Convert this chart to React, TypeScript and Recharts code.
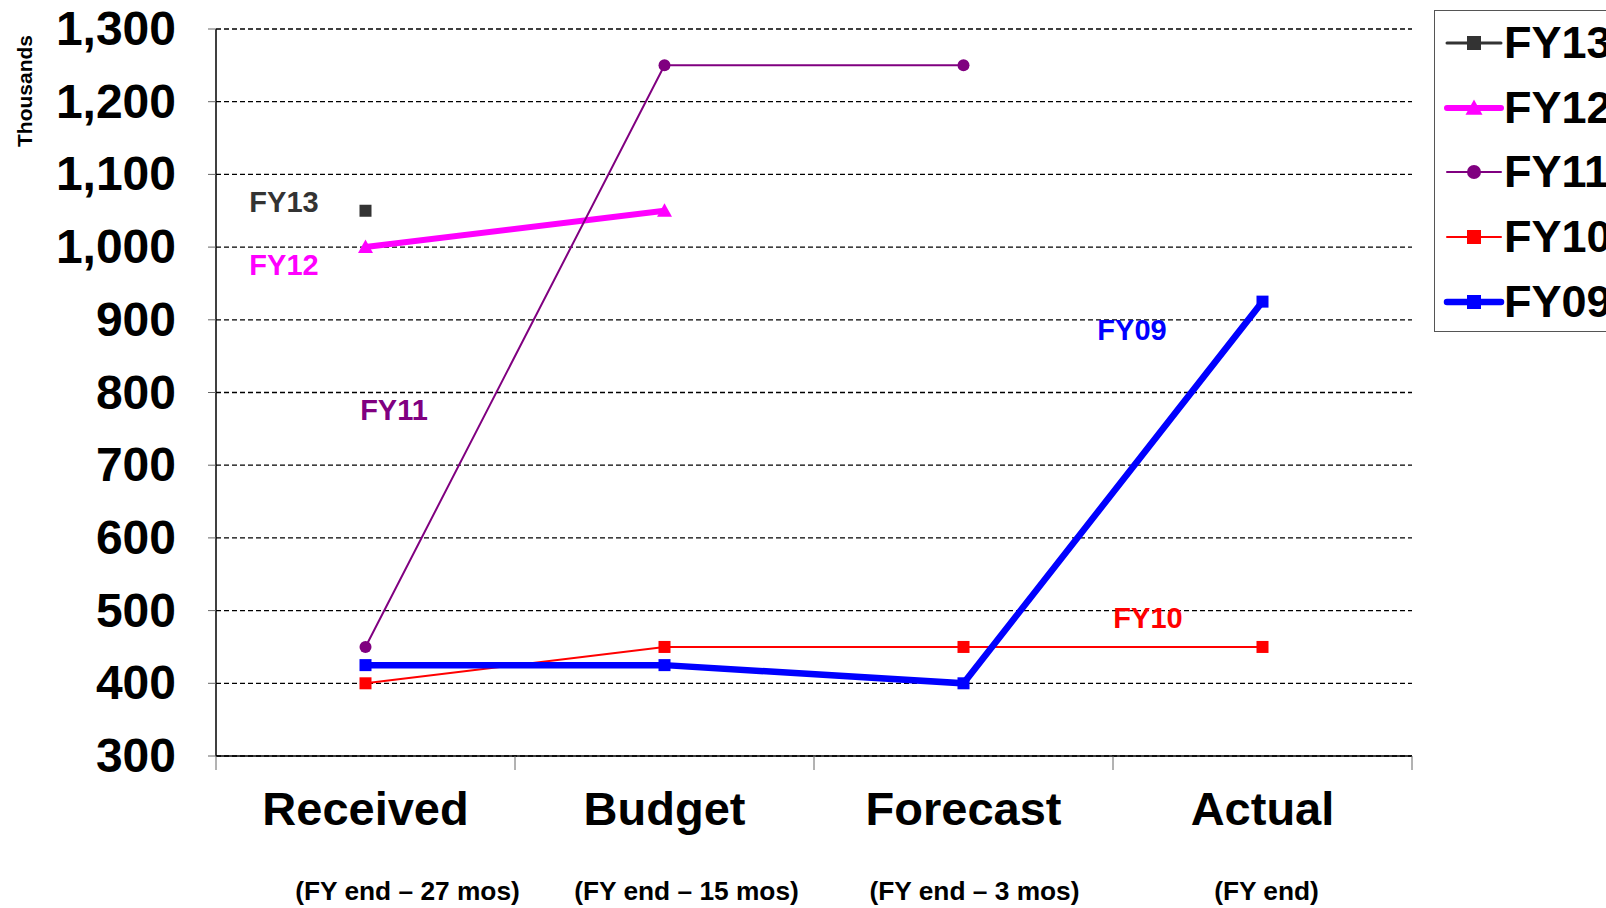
import { CartesianGrid, Legend, Line, LineChart, XAxis, YAxis } from "recharts";

const categories = ["Received", "Budget", "Forecast", "Actual"];
const subLabels = ["(FY end – 27 mos)", "(FY end – 15 mos)", "(FY end – 3 mos)", "(FY end)"];
const fy13 = [1050, null, null, null];
const fy12 = [1000, 1050, null, null];
const fy11 = [450, 1250, 1250, null];
const fy10 = [400, 450, 450, 450];
const fy09 = [425, 425, 400, 925];
const yTicks = [300, 400, 500, 600, 700, 800, 900, 1000, 1100, 1200, 1300];

// subtitles sit a little right of the category centre in the original
const subShift = [42, 22, 11, 4];

const data = categories.map((c, i) => ({
  name: c,
  sub: subLabels[i],
  FY13: fy13[i],
  FY12: fy12[i],
  FY11: fy11[i],
  FY10: fy10[i],
  FY09: fy09[i],
}));

const FONT = "'Liberation Sans', Arial, sans-serif";

type SeriesDef = {
  key: string;
  color: string;
  width: number;
  marker: "square" | "triangle" | "circle";
  size: number;
};

const series: SeriesDef[] = [
  { key: "FY13", color: "#333333", width: 3, marker: "square", size: 12 },
  { key: "FY12", color: "#FF00FF", width: 6, marker: "triangle", size: 15 },
  { key: "FY11", color: "#800080", width: 2, marker: "circle", size: 12 },
  { key: "FY10", color: "#FF0000", width: 2, marker: "square", size: 12 },
  { key: "FY09", color: "#0000FF", width: 6.5, marker: "square", size: 12 },
];

function marker(kind: string, cx: number, cy: number, size: number, color: string, key?: string) {
  const h = size / 2;
  if (kind === "circle") return <circle key={key} cx={cx} cy={cy} r={h} fill={color} />;
  if (kind === "triangle")
    return (
      <polygon
        key={key}
        points={`${cx},${cy - h} ${cx + h},${cy + h * 0.8} ${cx - h},${cy + h * 0.8}`}
        fill={color}
      />
    );
  return <rect key={key} x={cx - h} y={cy - h} width={size} height={size} fill={color} />;
}

const makeDot = (s: SeriesDef) => (props: any) => {
  const { cx, cy, index, value } = props;
  if (value == null || cx == null || cy == null) return <g key={`${s.key}-${index}`} />;
  return marker(s.marker, cx, cy, s.size, s.color, `${s.key}-${index}`);
};

const XTick = (props: any) => {
  const { x, y, payload, index } = props;
  const half = payload.offset ?? 149;
  const row = data[index];
  return (
    <g>
      <line x1={x - half} y1={y - 8} x2={x - half} y2={y + 6} stroke="#666" strokeWidth={1} />
      {index === categories.length - 1 && (
        <line x1={x + half} y1={y - 8} x2={x + half} y2={y + 6} stroke="#666" strokeWidth={1} />
      )}
      <text x={x} y={y + 61} textAnchor="middle" fontFamily={FONT} fontWeight="bold" fontSize={47} fill="#000">
        {payload.value}
      </text>
      <text
        x={x + (subShift[index] ?? 0)}
        y={y + 136}
        textAnchor="middle"
        fontFamily={FONT}
        fontWeight="bold"
        fontSize={26.3}
        fill="#000"
      >
        {row ? row.sub : ""}
      </text>
    </g>
  );
};

const LegendBox = () => (
  <div
    style={{
      position: "absolute",
      left: 1434,
      top: 10,
      width: 240,
      height: 322,
      border: "1px solid #555",
      background: "#fff",
      boxSizing: "border-box",
    }}
  >
    {series.map((s, i) => (
      <div key={s.key} style={{ position: "absolute", left: 0, top: 7 + i * 64.7, height: 50, width: 240 }}>
        <svg width={64} height={50} style={{ position: "absolute", left: 8, top: 0 }}>
          <line x1={4} y1={25} x2={58} y2={25} stroke={s.color} strokeWidth={s.width} strokeLinecap="round" />
          {marker(s.marker, 31, 25, s.size + 2, s.color)}
        </svg>
        <span
          style={{
            position: "absolute",
            left: 69,
            top: 0,
            lineHeight: "50px",
            fontFamily: FONT,
            fontWeight: "bold",
            fontSize: 45,
            color: "#000",
          }}
        >
          {s.key}
        </span>
      </div>
    ))}
  </div>
);

const notes = [
  { text: "FY13", color: "#333333", x: 284, y: 202 },
  { text: "FY12", color: "#FF00FF", x: 284, y: 265 },
  { text: "FY11", color: "#800080", x: 394, y: 410 },
  { text: "FY09", color: "#0000FF", x: 1132, y: 330 },
  { text: "FY10", color: "#FF0000", x: 1148, y: 618 },
];

export default function App() {
  return (
    <div
      style={{
        position: "absolute",
        left: 0,
        top: 0,
        width: 1606,
        height: 908,
        overflow: "hidden",
        background: "#fff",
      }}
    >
      <LineChart width={1606} height={908} data={data} margin={{ top: 29, right: 194, bottom: 0, left: 0 }}>
        <CartesianGrid vertical={false} stroke="#000" strokeDasharray="5 3" strokeWidth={1.3} />
        <XAxis
          dataKey="name"
          scale="band"
          height={152}
          axisLine={{ stroke: "#000", strokeWidth: 1.5 }}
          tickLine={false}
          tick={<XTick />}
          interval={0}
        />
        <YAxis
          width={216}
          domain={[300, 1300]}
          ticks={yTicks}
          interval={0}
          tickFormatter={(v: number) => v.toLocaleString("en-US")}
          axisLine={{ stroke: "#000", strokeWidth: 1.5 }}
          tickLine={{ stroke: "#666" }}
          tickSize={8}
          tickMargin={32}
          tick={{ fontFamily: FONT, fontWeight: "bold", fontSize: 48, fill: "#000", dy: -1 }}
        />
        <Legend content={() => null} />
        {series.map((s) => (
          <Line
            key={s.key}
            type="linear"
            dataKey={s.key}
            stroke={s.color}
            strokeWidth={s.width}
            dot={makeDot(s)}
            activeDot={false}
            isAnimationActive={false}
          />
        ))}
      </LineChart>
      <div
        style={{
          position: "absolute",
          left: 25,
          top: 91,
          transform: "translate(-50%, -50%) rotate(-90deg)",
          fontFamily: FONT,
          fontWeight: "bold",
          fontSize: 21,
          whiteSpace: "nowrap",
          color: "#000",
        }}
      >
        Thousands
      </div>
      {notes.map((n) => (
        <div
          key={n.text}
          style={{
            position: "absolute",
            left: n.x,
            top: n.y,
            transform: "translate(-50%, -50%)",
            fontFamily: FONT,
            fontWeight: "bold",
            fontSize: 29,
            color: n.color,
            whiteSpace: "nowrap",
          }}
        >
          {n.text}
        </div>
      ))}
      <LegendBox />
    </div>
  );
}
